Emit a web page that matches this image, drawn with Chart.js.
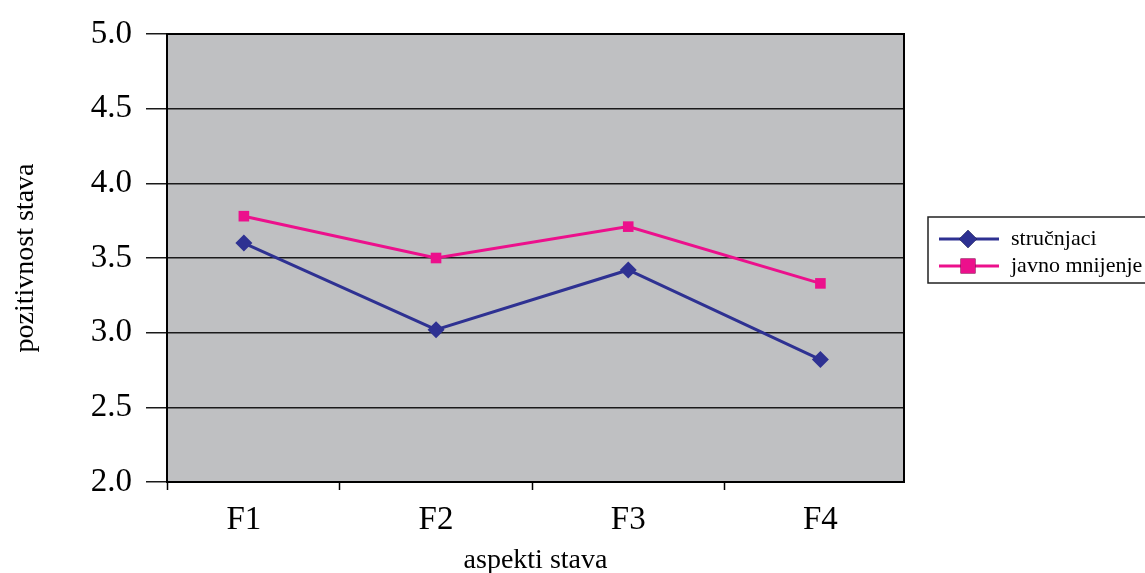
<!DOCTYPE html>
<html>
<head>
<meta charset="utf-8">
<script src="https://cdn.jsdelivr.net/npm/chart.js@4"></script>
<style>
  html, body { margin: 0; padding: 0; background: #fff; }
  #wrap { width: 1145px; height: 573px; }
</style>
</head>
<body>
<div id="wrap"><canvas id="chart"></canvas></div>
<script>
const categories = ["F1", "F2", "F3", "F4"];
const strucnjaci = [3.60, 3.02, 3.42, 2.82];
const javnoMnijenje = [3.78, 3.50, 3.71, 3.33];
const yTicks = [2.0, 2.5, 3.0, 3.5, 4.0, 4.5, 5.0];

const serif = "'Liberation Serif', 'Times New Roman', serif";
const navy = "#2e3192";
const pink = "#ec108c";

const toPoints = (vals) => vals.map((v, i) => ({ x: i + 1, y: v }));

// grey plot background + black frame
const plotFrame = {
  id: "plotFrame",
  beforeDraw(chart) {
    const { ctx, chartArea: a } = chart;
    ctx.save();
    ctx.fillStyle = "#bfc0c2";
    ctx.fillRect(a.left, a.top, a.right - a.left, a.bottom - a.top);
    ctx.restore();
  },
  beforeDatasetsDraw(chart) {
    const { ctx, chartArea: a } = chart;
    ctx.save();
    ctx.strokeStyle = "#000";
    ctx.lineWidth = 2;
    ctx.strokeRect(a.left, a.top, a.right - a.left, a.bottom - a.top);
    ctx.restore();
  }
};

// boxed legend with line + marker like the original
const boxLegend = {
  id: "boxLegend",
  afterDraw(chart) {
    const { ctx, chartArea: a } = chart;
    const x0 = a.right + 24, y0 = 217, h = 66;
    ctx.save();
    ctx.strokeStyle = "#222";
    ctx.lineWidth = 1.5;
    ctx.strokeRect(x0, y0, 240, h);
    chart.data.datasets.forEach((ds, i) => {
      const y = y0 + 22 + i * 27;
      ctx.strokeStyle = ds.borderColor;
      ctx.lineWidth = 3;
      ctx.beginPath();
      ctx.moveTo(x0 + 11, y);
      ctx.lineTo(x0 + 71, y);
      ctx.stroke();
      Chart.helpers.drawPoint(ctx, {
        pointStyle: ds.pointStyle,
        radius: ds.pointStyle === "rect" ? 10.5 : 9,
        borderWidth: 0
      }, x0 + 40, y);
      ctx.fillStyle = ds.borderColor;
      ctx.fill();
      ctx.fillStyle = "#000";
      ctx.font = "22px " + serif;
      ctx.textBaseline = "middle";
      ctx.fillText(ds.label, x0 + 83, y);
    });
    ctx.restore();
  }
};

new Chart(document.getElementById("chart"), {
  type: "line",
  data: {
    datasets: [
      {
        label: "stručnjaci",
        data: toPoints(strucnjaci),
        borderColor: navy,
        backgroundColor: navy,
        borderWidth: 3,
        pointStyle: "rectRot",
        pointRadius: 8.5,
        pointBorderWidth: 0
      },
      {
        label: "javno mnijenje",
        data: toPoints(javnoMnijenje),
        borderColor: pink,
        backgroundColor: pink,
        borderWidth: 3,
        pointStyle: "rect",
        pointRadius: 7.5,
        pointBorderWidth: 0
      }
    ]
  },
  options: {
    responsive: true,
    maintainAspectRatio: false,
    animation: false,
    layout: { padding: { top: 34, right: 241, left: 0, bottom: 0 } },
    plugins: {
      legend: { display: false },
      tooltip: { enabled: false }
    },
    scales: {
      x: {
        type: "linear",
        min: 0.6,
        max: 4.435,
        afterBuildTicks(scale) {
          const t = [{ value: scale.min }];
          categories.forEach((c, i) => {
            t.push({ value: i + 1 });
            if (i < categories.length - 1) t.push({ value: i + 1.5 });
          });
          scale.ticks = t;
        },
        afterFit(scale) { scale.height = 91; },
        ticks: {
          autoSkip: false,
          maxRotation: 0,
          padding: 11,
          color: "#000",
          font: { family: serif, size: 33 },
          callback: (v) => Number.isInteger(v) ? categories[v - 1] : ""
        },
        grid: {
          drawOnChartArea: false,
          drawTicks: true,
          tickLength: 8,
          tickWidth: 1.5,
          tickColor: (ctx) => (ctx.tick && Number.isInteger(ctx.tick.value)) ? "rgba(0,0,0,0)" : "#000"
        },
        border: { display: true, color: "#000", width: 2 },
        title: {
          display: true,
          text: "aspekti stava",
          color: "#000",
          font: { family: serif, size: 28, lineHeight: 0.85 },
          padding: 0
        }
      },
      y: {
        min: 2,
        max: 5,
        afterBuildTicks(scale) {
          scale.ticks = yTicks.map((v) => ({ value: v }));
        },
        afterFit(scale) { scale.width = 167; },
        ticks: {
          padding: 14,
          color: "#000",
          font: { family: serif, size: 33 },
          callback: (v) => v.toFixed(1)
        },
        grid: {
          color: "#1a1a1a",
          lineWidth: 1.5,
          tickLength: 21,
          drawTicks: true
        },
        border: { display: true, color: "#000", width: 2 },
        title: {
          display: true,
          text: "pozitivnost stava",
          color: "#000",
          font: { family: serif, size: 28, lineHeight: 1.8 },
          padding: 0
        }
      }
    }
  },
  plugins: [plotFrame, boxLegend]
});
</script>
</body>
</html>
